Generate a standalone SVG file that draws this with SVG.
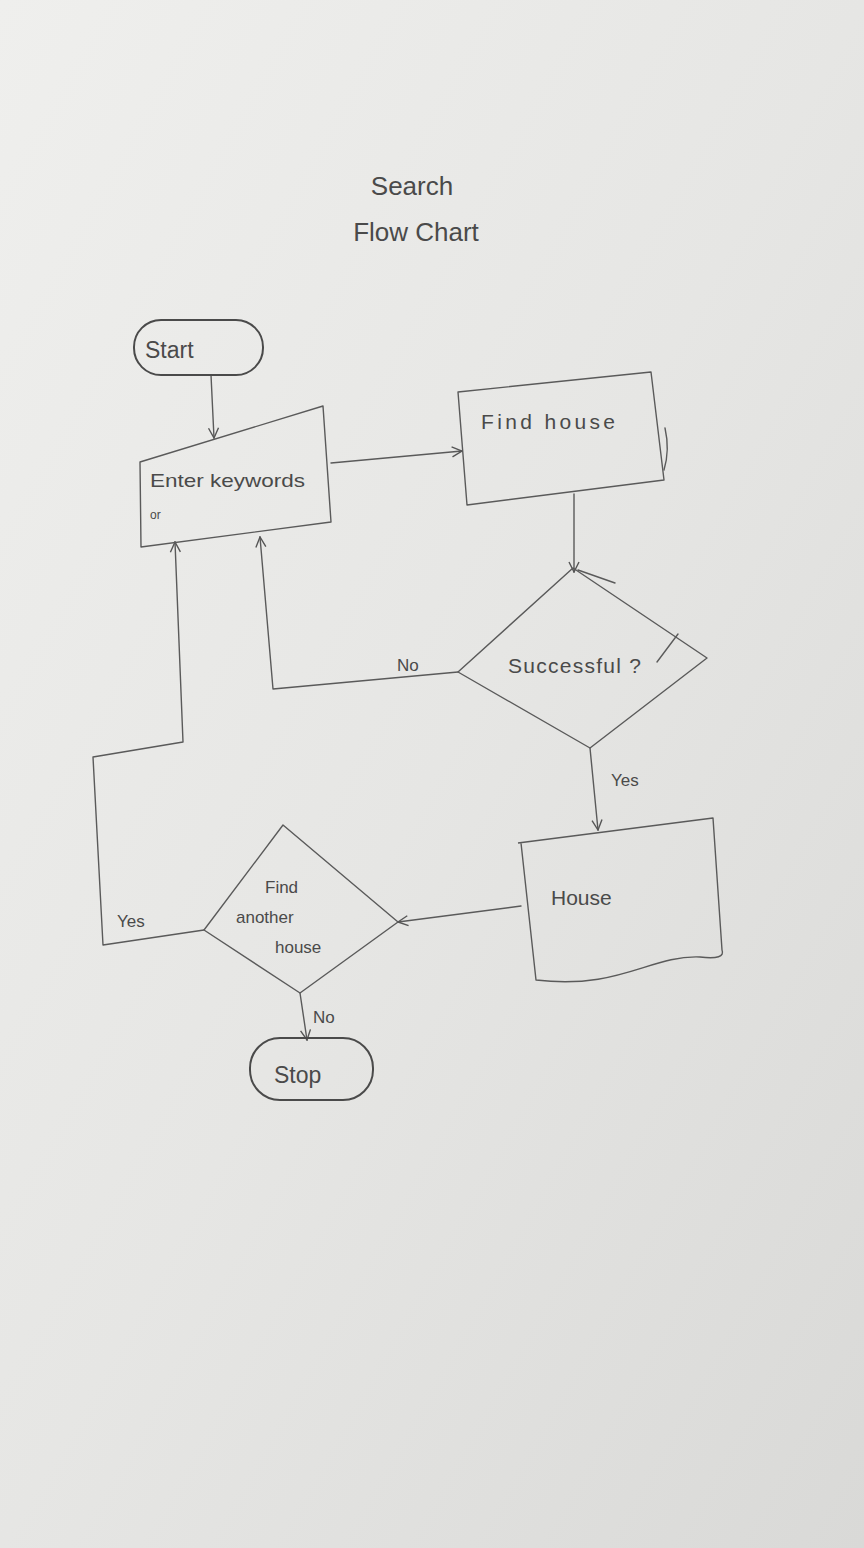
<svg xmlns="http://www.w3.org/2000/svg" width="864" height="1548" viewBox="0 0 864 1548">
<defs>
<linearGradient id="paper" x1="0" y1="0" x2="1" y2="1">
<stop offset="0" stop-color="#efefed"/>
<stop offset="0.5" stop-color="#e6e6e4"/>
<stop offset="1" stop-color="#d9d9d7"/>
</linearGradient>
<marker id="arr" viewBox="0 0 12 12" refX="11" refY="6" markerWidth="12" markerHeight="12" markerUnits="userSpaceOnUse" orient="auto">
<path d="M1,1 L11,6 L1,11" fill="none" stroke="#555" stroke-width="1.4"/>
</marker>
<style>
.ln{fill:none;stroke:#5a5a5a;stroke-width:1.4;stroke-linejoin:round;stroke-linecap:round}
.sh{fill:none;stroke:#5a5a5a;stroke-width:1.4;stroke-linejoin:round}
.term{fill:none;stroke:#4a4a4a;stroke-width:2}
.tx{font-family:"Liberation Sans",Arial,sans-serif;fill:#4a4a4a;font-size:21px}
.sm{font-size:17px}
.big{font-size:26px}
.tiny{font-size:12px}
</style>
</defs>
<rect width="864" height="1548" fill="url(#paper)"/>
<g id="title">
<text class="tx big" x="412" y="195" text-anchor="middle">Search</text>
<text class="tx big" x="416" y="241" text-anchor="middle">Flow Chart</text>
</g>
<g id="connectors">
<path class="ln" d="M211,375 L214,438" marker-end="url(#arr)"/>
<path class="ln" d="M331,463 L462,451" marker-end="url(#arr)"/>
<path class="ln" d="M574,494 L574,572" marker-end="url(#arr)"/>
<path class="ln" d="M458,672 L273,689 L260,537" marker-end="url(#arr)"/>
<path class="ln" d="M590,748 L598,830" marker-end="url(#arr)"/>
<path class="ln" d="M521,906 L398,922" marker-end="url(#arr)"/>
<path class="ln" d="M204,930 L103,945 L93,757 L183,742 L175,542" marker-end="url(#arr)"/>
<path class="ln" d="M300,993 L307,1040" marker-end="url(#arr)"/>
<text class="tx sm" x="397" y="671">No</text>
<text class="tx sm" x="611" y="786">Yes</text>
<text class="tx sm" x="117" y="927">Yes</text>
<text class="tx sm" x="313" y="1023">No</text>
</g>
<g id="start">
<rect class="term" x="134" y="320" width="129" height="55" rx="27"/>
<text class="tx" x="145" y="358" style="font-size:23px">Start</text>
</g>
<g id="enter">
<path class="sh" d="M140,462 L323,406 L331,522 L141,547 Z"/>
<text class="tx" x="150" y="487" style="font-size:19px" textLength="155" lengthAdjust="spacingAndGlyphs">Enter keywords</text>
<text class="tx tiny" x="150" y="519">or</text>
</g>
<g id="findhouse">
<path class="sh" d="M458,392 L651,372 L664,480 L467,505 Z"/>
<path class="ln" d="M665,428 Q670,450 664,470"/>
<text class="tx" x="481" y="429" textLength="134" lengthAdjust="spacing">Find  house</text>
</g>
<g id="successful">
<path class="sh" d="M573,568 L707,658 L590,748 L458,672 Z"/>
<path class="ln" d="M578,570 L615,583"/>
<path class="ln" d="M657,662 L678,634"/>
<text class="tx" x="508" y="673" textLength="133" lengthAdjust="spacing">Successful ?</text>
</g>
<g id="house">
<path class="sh" d="M518,843 L713,818 L722,950 Q726,960 700,957 C650,955 620,990 536,980 L521,843"/>
<text class="tx" x="551" y="905">House</text>
</g>
<g id="another">
<path class="sh" d="M283,825 L398,922 L300,993 L204,930 Z"/>
<text class="tx sm" x="265" y="893">Find</text>
<text class="tx sm" x="236" y="923">another</text>
<text class="tx sm" x="275" y="953">house</text>
</g>
<g id="stop">
<rect class="term" x="250" y="1038" width="123" height="62" rx="30"/>
<text class="tx" x="274" y="1083" style="font-size:23px">Stop</text>
</g>
</svg>
